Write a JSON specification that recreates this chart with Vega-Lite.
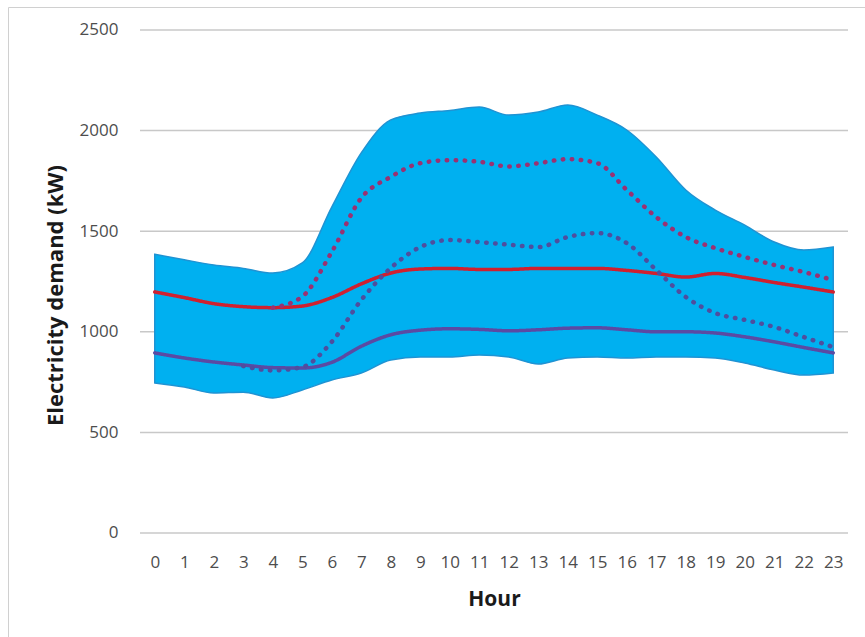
{
  "$schema": "https://vega.github.io/schema/vega-lite/v6.json",
  "width": 865,
  "height": 637,
  "autosize": {"type": "fit", "contains": "padding"},
  "padding": {"left": 8, "top": 7, "right": 0, "bottom": 0},
  "background": "white",
  "config": {
    "view": {"stroke": "#d0d0d0", "strokeWidth": 1},
    "font": "Open Sans",
    "axis": {"labelOverlap": false, "labelBound": false, "labelFlush": false}
  },
  "datasets": {
    "grid": [
      {"v": 0, "x0": -0.5, "x1": 23.5},
      {"v": 500, "x0": -0.5, "x1": 23.5},
      {"v": 1000, "x0": -0.5, "x1": 23.5},
      {"v": 1500, "x0": -0.5, "x1": 23.5},
      {"v": 2000, "x0": -0.5, "x1": 23.5},
      {"v": 2500, "x0": -0.5, "x1": 23.5}
    ],
    "band": [
      {"hour": 0, "low": 746, "high": 1385},
      {"hour": 1, "low": 726, "high": 1358},
      {"hour": 2, "low": 696, "high": 1332},
      {"hour": 3, "low": 700, "high": 1315},
      {"hour": 4, "low": 671, "high": 1292},
      {"hour": 5, "low": 711, "high": 1342},
      {"hour": 6, "low": 760, "high": 1620},
      {"hour": 7, "low": 795, "high": 1889},
      {"hour": 8, "low": 860, "high": 2053},
      {"hour": 9, "low": 875, "high": 2087},
      {"hour": 10, "low": 875, "high": 2100},
      {"hour": 11, "low": 885, "high": 2117},
      {"hour": 12, "low": 875, "high": 2077},
      {"hour": 13, "low": 840, "high": 2092},
      {"hour": 14, "low": 870, "high": 2127},
      {"hour": 15, "low": 875, "high": 2077},
      {"hour": 16, "low": 870, "high": 2003},
      {"hour": 17, "low": 875, "high": 1869},
      {"hour": 18, "low": 875, "high": 1705},
      {"hour": 19, "low": 870, "high": 1605},
      {"hour": 20, "low": 845, "high": 1530},
      {"hour": 21, "low": 810, "high": 1446},
      {"hour": 22, "low": 785, "high": 1406},
      {"hour": 23, "low": 795, "high": 1421}
    ],
    "lines": [
      {"hour": 0, "series": "mean", "value": 1198},
      {"hour": 1, "series": "mean", "value": 1170},
      {"hour": 2, "series": "mean", "value": 1140},
      {"hour": 3, "series": "mean", "value": 1125},
      {"hour": 4, "series": "mean", "value": 1120},
      {"hour": 5, "series": "mean", "value": 1128},
      {"hour": 6, "series": "mean", "value": 1170},
      {"hour": 7, "series": "mean", "value": 1238},
      {"hour": 8, "series": "mean", "value": 1292},
      {"hour": 9, "series": "mean", "value": 1312},
      {"hour": 10, "series": "mean", "value": 1315},
      {"hour": 11, "series": "mean", "value": 1310},
      {"hour": 12, "series": "mean", "value": 1310},
      {"hour": 13, "series": "mean", "value": 1315},
      {"hour": 14, "series": "mean", "value": 1315},
      {"hour": 15, "series": "mean", "value": 1315},
      {"hour": 16, "series": "mean", "value": 1305},
      {"hour": 17, "series": "mean", "value": 1290},
      {"hour": 18, "series": "mean", "value": 1272},
      {"hour": 19, "series": "mean", "value": 1290},
      {"hour": 20, "series": "mean", "value": 1270},
      {"hour": 21, "series": "mean", "value": 1245},
      {"hour": 22, "series": "mean", "value": 1222},
      {"hour": 23, "series": "mean", "value": 1198},
      {"hour": 0, "series": "low", "value": 895},
      {"hour": 1, "series": "low", "value": 870},
      {"hour": 2, "series": "low", "value": 850},
      {"hour": 3, "series": "low", "value": 835},
      {"hour": 4, "series": "low", "value": 822},
      {"hour": 5, "series": "low", "value": 820},
      {"hour": 6, "series": "low", "value": 848},
      {"hour": 7, "series": "low", "value": 928},
      {"hour": 8, "series": "low", "value": 985},
      {"hour": 9, "series": "low", "value": 1008},
      {"hour": 10, "series": "low", "value": 1015},
      {"hour": 11, "series": "low", "value": 1012},
      {"hour": 12, "series": "low", "value": 1005},
      {"hour": 13, "series": "low", "value": 1010},
      {"hour": 14, "series": "low", "value": 1018},
      {"hour": 15, "series": "low", "value": 1020},
      {"hour": 16, "series": "low", "value": 1010},
      {"hour": 17, "series": "low", "value": 1000},
      {"hour": 18, "series": "low", "value": 1000},
      {"hour": 19, "series": "low", "value": 994},
      {"hour": 20, "series": "low", "value": 975},
      {"hour": 21, "series": "low", "value": 950},
      {"hour": 22, "series": "low", "value": 922},
      {"hour": 23, "series": "low", "value": 895},
      {"hour": 4, "series": "dotHigh", "value": 1120},
      {"hour": 5, "series": "dotHigh", "value": 1175},
      {"hour": 6, "series": "dotHigh", "value": 1397},
      {"hour": 7, "series": "dotHigh", "value": 1665},
      {"hour": 8, "series": "dotHigh", "value": 1770},
      {"hour": 9, "series": "dotHigh", "value": 1838},
      {"hour": 10, "series": "dotHigh", "value": 1853},
      {"hour": 11, "series": "dotHigh", "value": 1845},
      {"hour": 12, "series": "dotHigh", "value": 1822},
      {"hour": 13, "series": "dotHigh", "value": 1838},
      {"hour": 14, "series": "dotHigh", "value": 1858},
      {"hour": 15, "series": "dotHigh", "value": 1838},
      {"hour": 16, "series": "dotHigh", "value": 1705},
      {"hour": 17, "series": "dotHigh", "value": 1570},
      {"hour": 18, "series": "dotHigh", "value": 1471},
      {"hour": 19, "series": "dotHigh", "value": 1416},
      {"hour": 20, "series": "dotHigh", "value": 1372},
      {"hour": 21, "series": "dotHigh", "value": 1332},
      {"hour": 22, "series": "dotHigh", "value": 1297},
      {"hour": 23, "series": "dotHigh", "value": 1257},
      {"hour": 3, "series": "dotLow", "value": 830},
      {"hour": 4, "series": "dotLow", "value": 808},
      {"hour": 5, "series": "dotLow", "value": 825},
      {"hour": 6, "series": "dotLow", "value": 950},
      {"hour": 7, "series": "dotLow", "value": 1158},
      {"hour": 8, "series": "dotLow", "value": 1317},
      {"hour": 9, "series": "dotLow", "value": 1421},
      {"hour": 10, "series": "dotLow", "value": 1456},
      {"hour": 11, "series": "dotLow", "value": 1446},
      {"hour": 12, "series": "dotLow", "value": 1433},
      {"hour": 13, "series": "dotLow", "value": 1421},
      {"hour": 14, "series": "dotLow", "value": 1471},
      {"hour": 15, "series": "dotLow", "value": 1491},
      {"hour": 16, "series": "dotLow", "value": 1441},
      {"hour": 17, "series": "dotLow", "value": 1307},
      {"hour": 18, "series": "dotLow", "value": 1173},
      {"hour": 19, "series": "dotLow", "value": 1093},
      {"hour": 20, "series": "dotLow", "value": 1059},
      {"hour": 21, "series": "dotLow", "value": 1024},
      {"hour": 22, "series": "dotLow", "value": 974},
      {"hour": 23, "series": "dotLow", "value": 924}
    ]
  },
  "resolve": {"scale": {"x": "shared", "y": "shared"}},
  "layer": [
    {
      "data": {"name": "grid"},
      "mark": {"type": "rule", "stroke": "#c8c8c8", "strokeWidth": 1.5},
      "encoding": {
        "x": {
          "field": "x0", "type": "quantitative",
          "scale": {"domain": [-4.9746, 24.0763], "nice": false, "zero": false},
          "axis": {
            "orient": "bottom", "offset": -104, "values": [0,1,2,3,4,5,6,7,8,9,10,11,12,13,14,15,16,17,18,19,20,21,22,23],
            "tickCount": 30, "format": "d",
            "domain": false, "ticks": false, "grid": false,
            "labelFontSize": 17, "labelColor": "#4d4d4d", "labelPadding": 21, "labelFlush": false, "labelOverlap": false,
            "title": "Hour", "titleFontSize": 21, "titleFontWeight": "bold", "titleColor": "#1a1a1a",
            "titleX": 486, "titleY": 72, "titleBaseline": "alphabetic", "titleAlign": "center"
          }
        },
        "x2": {"field": "x1"},
        "y": {
          "field": "v", "type": "quantitative",
          "scale": {"domain": [-516.9, 2614.3], "nice": false, "zero": false},
          "axis": {
            "orient": "left", "offset": -132, "values": [0, 500, 1000, 1500, 2000, 2500], "format": "d",
            "domain": false, "ticks": false, "grid": false,
            "labelFontSize": 17, "labelColor": "#4d4d4d", "labelPadding": 22,
            "title": "Electricity demand (kW)", "titleFontSize": 22, "titleFontWeight": "bold", "titleColor": "#1a1a1a",
            "titleX": -78, "titleY": 288, "titleBaseline": "alphabetic", "titleAlign": "center", "titleAngle": -90
          }
        }
      }
    },
    {
      "data": {"name": "band"},
      "mark": {"type": "area", "interpolate": "monotone", "fill": "#00b0f0", "stroke": "#1f93d3", "strokeWidth": 1.5},
      "encoding": {
        "x": {"field": "hour", "type": "quantitative"},
        "y": {"field": "high", "type": "quantitative"},
        "y2": {"field": "low"}
      }
    },
    {
      "data": {"name": "lines"},
      "mark": {"type": "line", "interpolate": "monotone", "strokeCap": "round"},
      "encoding": {
        "x": {"field": "hour", "type": "quantitative"},
        "y": {"field": "value", "type": "quantitative"},
        "detail": {"field": "series"},
        "color": {
          "field": "series", "type": "nominal", "legend": null,
          "scale": {"domain": ["dotLow", "dotHigh", "low", "mean"], "range": ["#4f4e9e", "#9a3272", "#5b4aa3", "#d0202f"]}
        },
        "strokeDash": {
          "field": "series", "type": "nominal", "legend": null,
          "scale": {"domain": ["dotLow", "dotHigh", "low", "mean"], "range": [[0.5, 8.5], [0.5, 8.5], [1, 0], [1, 0]]}
        },
        "strokeWidth": {
          "field": "series", "type": "nominal", "legend": null,
          "scale": {"type": "ordinal", "domain": ["dotLow", "dotHigh", "low", "mean"], "range": [4.5, 4.5, 3.5, 3.5]}
        },
        "order": {"field": "hour", "type": "quantitative"}
      }
    }
  ]
}
